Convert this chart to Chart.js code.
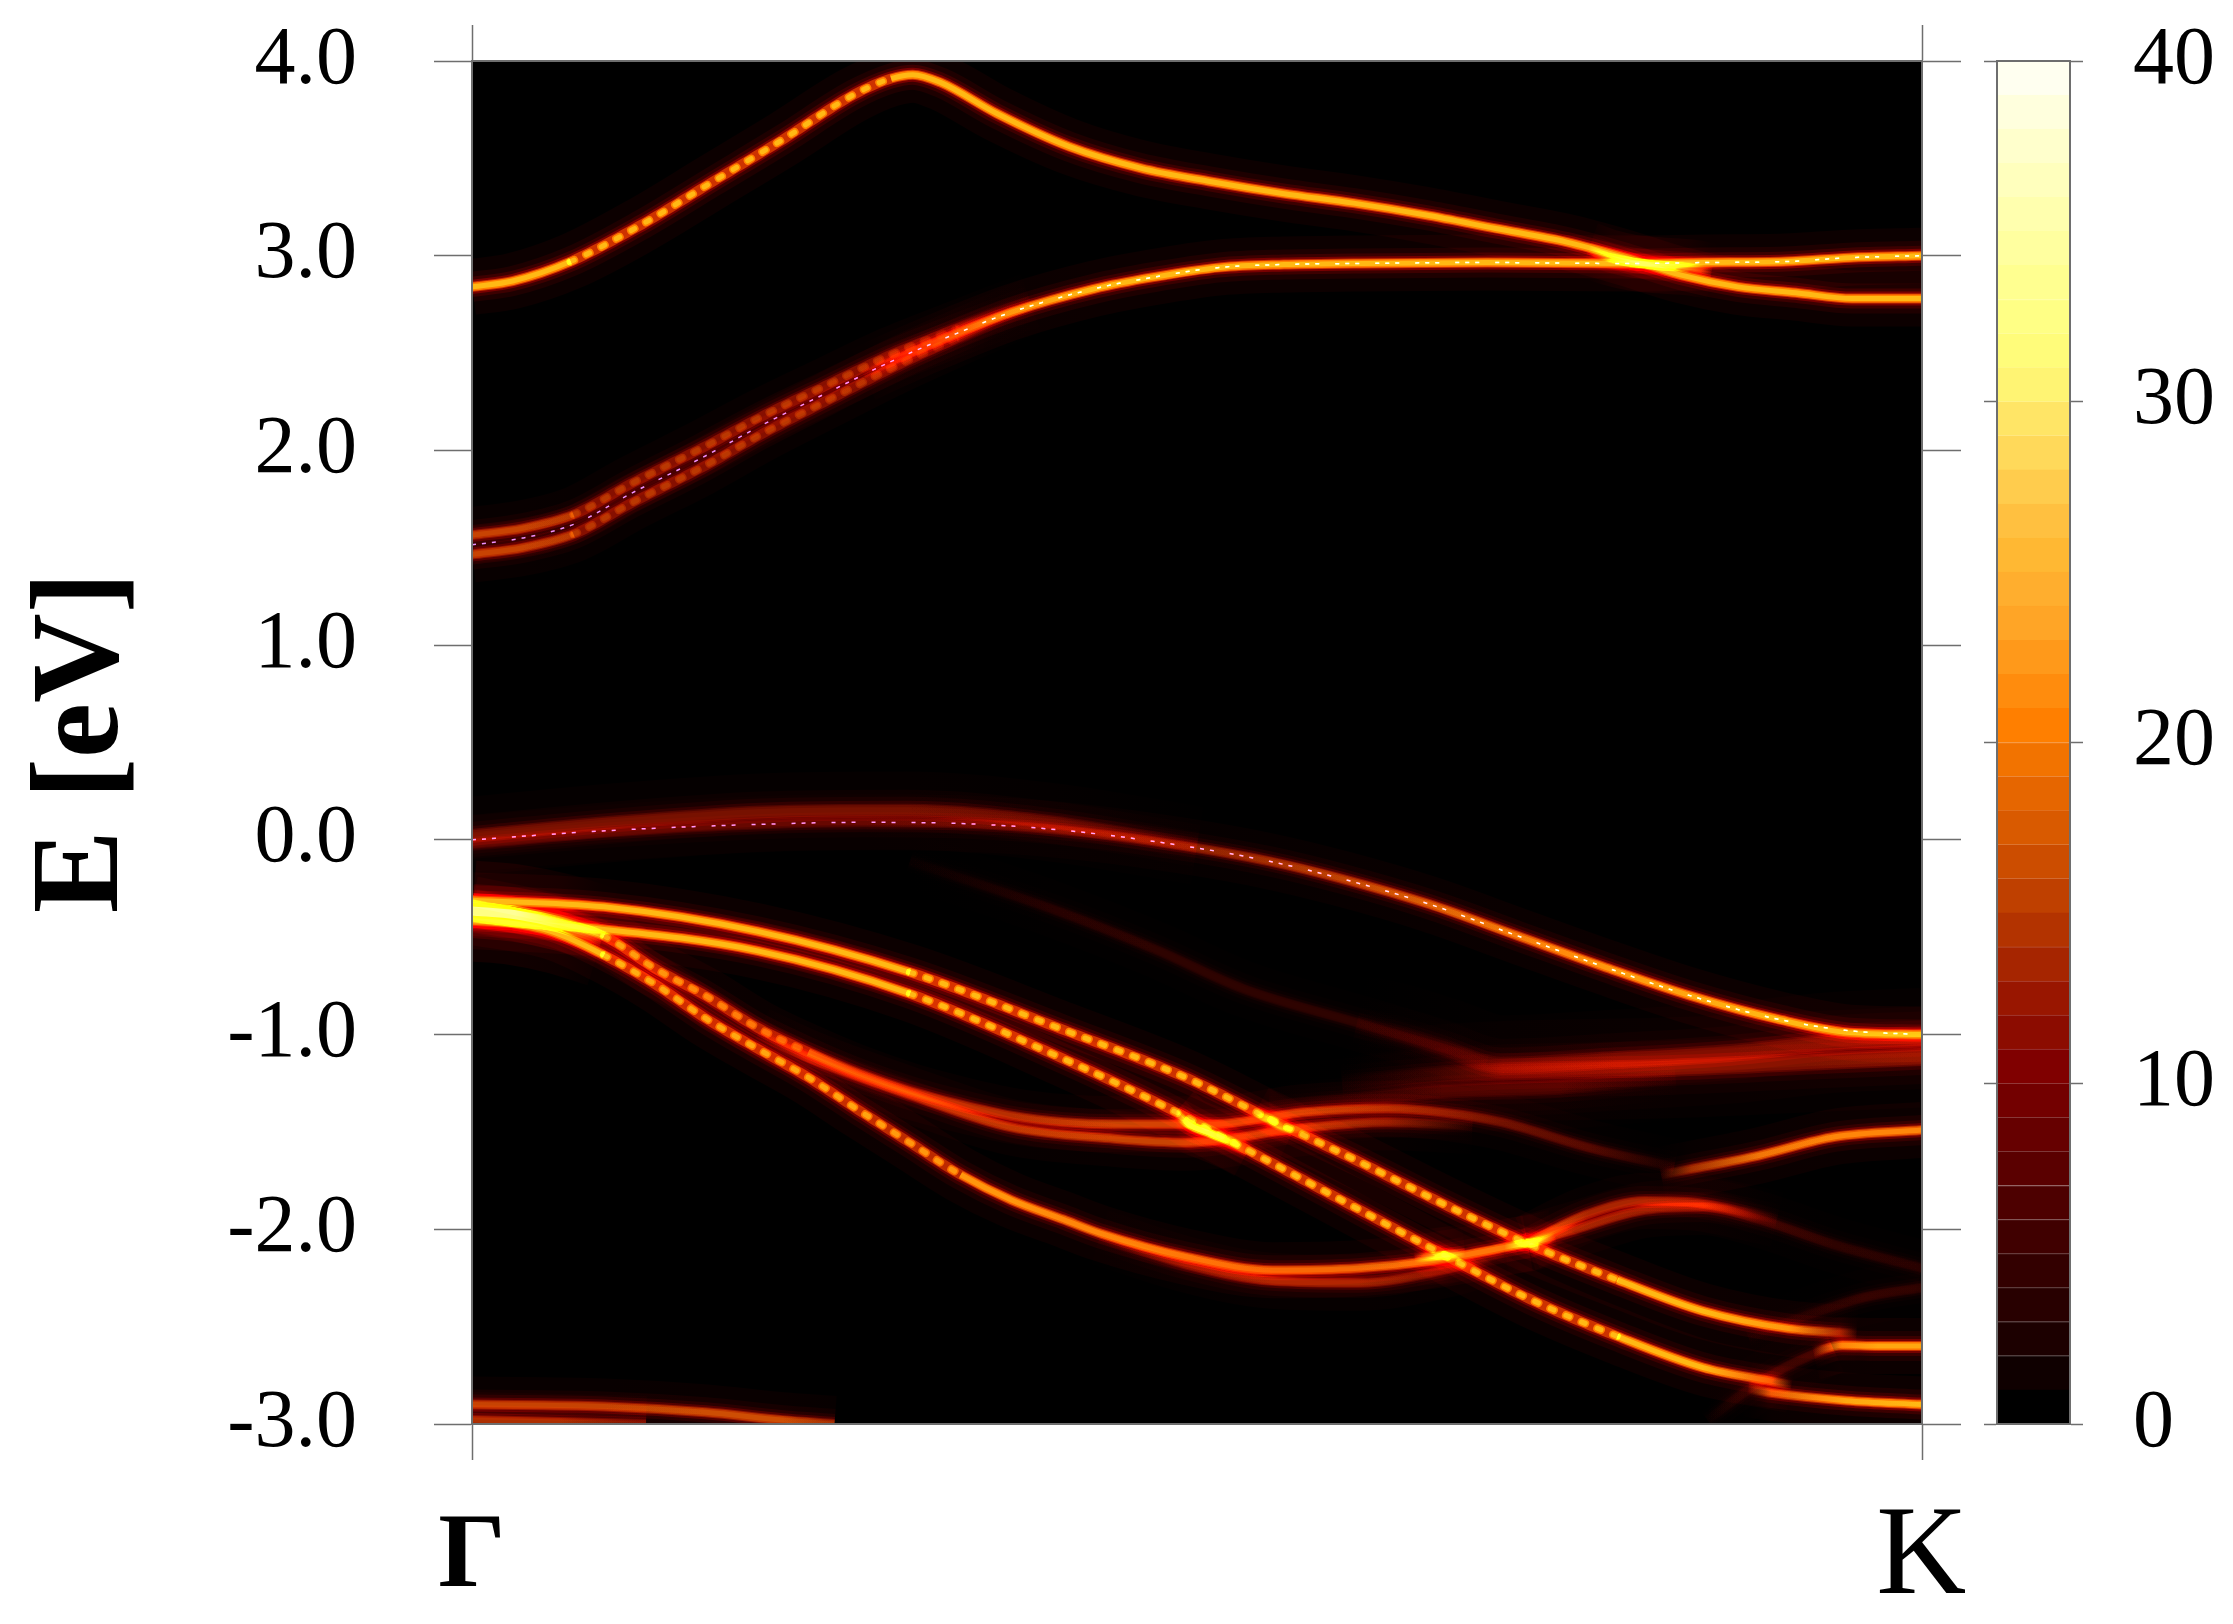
<!DOCTYPE html>
<html>
<head>
<meta charset="utf-8">
<title>Spectral function</title>
<script src="https://cdn.jsdelivr.net/npm/chart.js@4/dist/chart.umd.min.js"></script>
<style>
  html, body { margin: 0; padding: 0; background: #fff; }
  canvas { position: absolute; top: 0; }
  #bands { left: 0; }
  #colorbar { left: 1965px; }
</style>
</head>
<body>
<canvas id="bands" width="1965" height="1624"></canvas>
<canvas id="colorbar" width="268" height="1624"></canvas>
<script>
// axis ticks
const energyTicks = [4, 3, 2, 1, 0, -1, -2, -3];
const energyTickLabels = ["4.0", "3.0", "2.0", "1.0", "0.0", "-1.0", "-2.0", "-3.0"];
const kTicks = [0, 1];
const kTickLabels = ["\u0393", "K"];
const scaleTicks = [0, 10, 20, 30, 40];
const scaleSteps = [1, 1, 1, 1, 1, 1, 1, 1, 1, 1, 1, 1, 1, 1, 1, 1, 1, 1, 1, 1,
                    1, 1, 1, 1, 1, 1, 1, 1, 1, 1, 1, 1, 1, 1, 1, 1, 1, 1, 1, 1];

// conduction bands
const kCondTop = [0, 0.028, 0.068, 0.117, 0.166, 0.215, 0.264, 0.289, 0.304, 0.323, 0.362, 0.412, 0.461, 0.51, 0.559, 0.608, 0.657, 0.706, 0.755, 0.795, 0.834, 0.873, 0.913, 0.952, 1];
const eCondTop = [2.84, 2.87, 2.97, 3.16, 3.38, 3.6, 3.83, 3.91, 3.93, 3.89, 3.73, 3.56, 3.45, 3.38, 3.32, 3.27, 3.21, 3.14, 3.07, 2.99, 2.9, 2.84, 2.81, 2.78, 2.78];
const kCondMain = [0.27, 0.29, 0.334, 0.372, 0.429, 0.47, 0.516, 0.56, 0.608, 0.7, 0.798, 0.85, 0.906, 0.95, 1];
const eCondMain = [2.39, 2.46, 2.6, 2.71, 2.83, 2.89, 2.94, 2.955, 2.96, 2.965, 2.96, 2.965, 2.97, 2.99, 3.0];
const gCondMain = [0.02, 0.3, 0.65, 0.9, 1, 1, 1, 1, 1, 1, 1, 1, 1, 1, 1];
const kCondSplit = [0, 0.035, 0.07, 0.11, 0.158, 0.2, 0.246, 0.29, 0.334, 0.36, 0.385];
const eCondSplitUp = [1.565, 1.6, 1.67, 1.83, 2.01, 2.175, 2.34, 2.495, 2.625, 2.7, 2.77];
const eCondSplitDn = [1.465, 1.5, 1.57, 1.73, 1.91, 2.085, 2.26, 2.425, 2.575, 2.66, 2.74];
const gCondSplit = [0.6, 0.6, 0.55, 0.55, 0.55, 0.55, 0.55, 0.5, 0.3, 0.1, 0.02];
// the two bands cross near K
const kHotCond = [0.77, 0.785, 0.8, 0.82, 0.84, 0.855];
const eHotCond = [3.03, 2.99, 2.965, 2.95, 2.94, 2.92];
const gHotCond = [0.05, 0.9, 1.3, 1.3, 0.8, 0.05];

// calculated band overlays (dashed)
const kCalcCond = [0, 0.035, 0.07, 0.11, 0.158, 0.2, 0.246, 0.29, 0.334, 0.372, 0.429, 0.47, 0.516, 0.56, 0.608, 0.7, 0.798, 0.85, 0.906, 0.95, 1];
const eCalcCond = [1.515, 1.55, 1.62, 1.78, 1.96, 2.13, 2.3, 2.46, 2.6, 2.71, 2.83, 2.89, 2.94, 2.955, 2.96, 2.965, 2.96, 2.965, 2.97, 2.99, 3.0];
const kCalcVal = [0, 0.1, 0.2, 0.27, 0.35, 0.42, 0.49, 0.55, 0.6, 0.66, 0.72, 0.78, 0.84, 0.9, 0.95, 1];
const eCalcVal = [0, 0.05, 0.08, 0.09, 0.08, 0.04, -0.03, -0.11, -0.2, -0.33, -0.49, -0.65, -0.8, -0.92, -0.98, -1.0];

// top valence band
const kValDim = [0, 0.1, 0.2, 0.3, 0.4, 0.5];
const eValDim = [0.02, 0.09, 0.14, 0.15, 0.09, -0.03];
const gValDim = [0.3, 0.3, 0.3, 0.3, 0.25, 0.05];
const kValence = [0, 0.1, 0.2, 0.27, 0.35, 0.42, 0.49, 0.55, 0.6, 0.66, 0.72, 0.78, 0.84, 0.9, 0.95, 1];
const eValence = [-0.02, 0.04, 0.08, 0.09, 0.08, 0.04, -0.03, -0.11, -0.2, -0.33, -0.49, -0.65, -0.8, -0.92, -0.99, -1.0];
const gValence = [0.2, 0.2, 0.2, 0.2, 0.25, 0.3, 0.4, 0.5, 0.6, 0.72, 0.82, 0.9, 0.95, 1, 1, 1];

// long valence pair running down to K
const kUpper = [0, 0.091, 0.197, 0.302, 0.408, 0.492, 0.552, 0.611, 0.67, 0.73, 0.79, 0.849, 0.908, 0.943, 0.955];
const eUpper = [-0.31, -0.344, -0.47, -0.68, -0.976, -1.22, -1.44, -1.65, -1.87, -2.08, -2.26, -2.42, -2.51, -2.53, -2.535];
const gUpper = [1, 1, 1, 1, 1, 1, 1, 1, 1, 1, 1, 1, 0.9, 0.45, 0.02];
const kLower = [0, 0.091, 0.197, 0.302, 0.408, 0.478, 0.524, 0.592, 0.67, 0.73, 0.79, 0.849, 0.896, 0.91];
const eLower = [-0.416, -0.46, -0.57, -0.79, -1.125, -1.37, -1.55, -1.82, -2.13, -2.36, -2.55, -2.71, -2.78, -2.8];
const gLower = [1, 1, 1, 1, 1, 1, 1, 1, 1, 1, 1, 1, 0.7, 0.02];
// extra weight where everything meets at gamma
const kCluster = [0, 0.03, 0.06, 0.09];
const eCluster = [-0.365, -0.385, -0.43, -0.5];
const gCluster = [1.6, 1.6, 1.1, 0.05];

// steep pair from gamma
const kSteepLow = [0, 0.056, 0.091, 0.126, 0.161, 0.197, 0.232, 0.267, 0.302, 0.337, 0.372, 0.408, 0.433, 0.492, 0.552, 0.611, 0.663, 0.728];
const eSteepLow = [-0.395, -0.474, -0.592, -0.74, -0.916, -1.073, -1.22, -1.39, -1.555, -1.72, -1.85, -1.95, -2.02, -2.14, -2.21, -2.2, -2.16, -2.07];
const gSteepLow = [1, 1, 1, 0.95, 0.95, 0.95, 0.95, 0.95, 0.9, 0.9, 0.9, 0.85, 0.85, 0.8, 0.75, 0.75, 0.8, 0.8];
const kSteepLowDim = [0.433, 0.492, 0.552, 0.611, 0.67, 0.72];
const eSteepLowDim = [-2.04, -2.18, -2.265, -2.275, -2.21, -2.1];
const gSteepLowDim = [0.02, 0.35, 0.45, 0.45, 0.3, 0.02];

// steep band that flattens out near -1.5 eV, and its partner
const kSteepUp = [0, 0.045, 0.091, 0.126, 0.161, 0.197, 0.232, 0.267, 0.302, 0.337, 0.372, 0.408, 0.443, 0.478, 0.512, 0.572, 0.631, 0.67, 0.71, 0.77, 0.829];
const eSteepUp = [-0.33, -0.4, -0.494, -0.66, -0.8, -0.965, -1.09, -1.2, -1.29, -1.36, -1.417, -1.45, -1.46, -1.46, -1.46, -1.4, -1.38, -1.4, -1.45, -1.58, -1.68];
const gSteepUp = [1, 1, 0.95, 0.9, 0.85, 0.8, 0.7, 0.55, 0.5, 0.5, 0.5, 0.55, 0.6, 0.6, 0.6, 0.6, 0.5, 0.4, 0.3, 0.22, 0.04];
const kFlatB = [0.197, 0.232, 0.302, 0.372, 0.443, 0.492, 0.572, 0.631, 0.69];
const eFlatB = [-1.0, -1.12, -1.31, -1.477, -1.535, -1.555, -1.48, -1.45, -1.47];
const gFlatB = [0.02, 0.4, 0.5, 0.55, 0.6, 0.6, 0.55, 0.4, 0.02];

// bright spots where the bands cross
const kHotA = [0.485, 0.494, 0.51, 0.524, 0.535];
const eHotA = [-1.4, -1.46, -1.51, -1.555, -1.6];
const gHotA = [0.05, 1.2, 1.3, 0.8, 0.05];
const kHotB = [0.54, 0.552, 0.566];
const eHotB = [-1.4, -1.45, -1.5];
const gHotB = [0.05, 0.9, 0.05];
const kHotC = [0.65, 0.668, 0.685];
const eHotC = [-2.15, -2.135, -2.12];
const gHotC = [0.05, 1.1, 0.05];
const kHotD = [0.712, 0.73, 0.747];
const eHotD = [-2.09, -2.07, -2.04];
const gHotD = [0.05, 1.1, 0.05];

// branches past the second crossing
const kBranchA = [0.728, 0.77, 0.809, 0.845, 0.877, 0.9];
const eBranchA = [-2.07, -1.92, -1.855, -1.865, -1.91, -1.95];
const gBranchA = [0.7, 0.45, 0.45, 0.4, 0.2, 0.02];
const kBranchB = [0.728, 0.761, 0.809, 0.849, 0.888, 0.94, 1];
const eBranchB = [-2.07, -2.0, -1.9, -1.885, -1.95, -2.08, -2.2];
const gBranchB = [0.6, 0.45, 0.4, 0.35, 0.16, 0.1, 0.08];

// pieces near K
const kRise = [0.82, 0.841, 0.888, 0.94, 1];
const eRise = [-1.72, -1.69, -1.62, -1.525, -1.49];
const gRise = [0.04, 0.5, 0.8, 0.85, 0.85];
const kBroadA = [0.61, 0.64, 0.67, 0.71, 0.79, 0.868, 0.94, 1];
const eBroadA = [-0.95, -1.0, -1.07, -1.16, -1.13, -1.095, -1.04, -1.02];
const gBroadA = [0.01, 0.04, 0.08, 0.2, 0.28, 0.28, 0.3, 0.32];
const kBroadB = [0.6, 0.63, 0.66, 0.71, 0.829, 0.92, 1];
const eBroadB = [-1.25, -1.23, -1.21, -1.19, -1.17, -1.14, -1.115];
const gBroadB = [0.01, 0.05, 0.1, 0.22, 0.32, 0.32, 0.36];
const kBroadC = [0.55, 0.6, 0.67, 0.75, 0.83];
const eBroadC = [-1.37, -1.34, -1.29, -1.27, -1.22];
const gBroadC = [0.01, 0.06, 0.15, 0.15, 0.01];
const kFlat26 = [0.925, 0.945, 0.97, 1];
const eFlat26 = [-2.63, -2.595, -2.6, -2.6];
const gFlat26 = [0.02, 0.85, 0.95, 0.95];
const kFeed26 = [0.852, 0.88, 0.904, 0.938];
const eFeed26 = [-2.98, -2.825, -2.715, -2.6];
const gFeed26 = [0.01, 0.1, 0.14, 0.16];
const kFlat29 = [0.88, 0.896, 0.948, 1];
const eFlat29 = [-2.82, -2.84, -2.88, -2.9];
const gFlat29 = [0.02, 0.7, 0.95, 1];
const kFaint23 = [0.88, 0.96, 1];
const eFaint23 = [-2.55, -2.35, -2.3];
const gFaint23 = [0.01, 0.12, 0.1];
const kStreak = [0.302, 0.402, 0.472, 0.532, 0.611, 0.67, 0.7];
const eStreak = [-0.11, -0.36, -0.565, -0.765, -0.94, -1.07, -1.14];
const gStreak = [0.01, 0.08, 0.1, 0.1, 0.1, 0.08, 0.01];

// band at the bottom edge
const kBottom = [0, 0.091, 0.161, 0.214, 0.25];
const eBottom = [-2.9, -2.91, -2.94, -2.98, -3.0];
const gBottom = [0.6, 0.6, 0.65, 0.65, 0.5];
const kBottomDim = [0, 0.06, 0.12];
const eBottomDim = [-2.98, -2.99, -3.0];
const gBottomDim = [0.5, 0.5, 0.3];

// colour bar, bottom to top
const hotPalette = [
  "#000000", "#0f0000", "#1c0000", "#280000", "#330000", "#400000", "#4d0000", "#5a0000",
  "#660000", "#730000", "#800000", "#8c0c00", "#991600", "#a62500", "#b33300", "#bf4000",
  "#cc4d00", "#d95a00", "#e66600", "#f27300", "#ff7f00", "#ff8c0d", "#ff991a", "#ffa526",
  "#ffae2e", "#ffb833", "#ffc040", "#ffcc4d", "#ffd95a", "#ffe566", "#fff473", "#fffc7a",
  "#ffff85", "#ffff90", "#ffff9f", "#ffffae", "#ffffbd", "#ffffcc", "#ffffdd", "#fffff0"
];

const spectralBands = [
  { k: kCondTop, e: eCondTop, gain: 1, bead: [0.05, 0.29] },
  { k: kCondMain, e: eCondMain, gain: gCondMain },
  { k: kCondSplit, e: eCondSplitUp, gain: gCondSplit, bead: [0.05, 0.34] },
  { k: kCondSplit, e: eCondSplitDn, gain: gCondSplit, bead: [0.05, 0.34] },
  { k: kHotCond, e: eHotCond, gain: gHotCond },
  { k: kValDim, e: eValDim, gain: gValDim, spread: 1.4 },
  { k: kValence, e: eValence, gain: gValence },
  { k: kUpper, e: eUpper, gain: gUpper, bead: [0.25, 0.8] },
  { k: kLower, e: eLower, gain: gLower, bead: [0.25, 0.8] },
  { k: kCluster, e: eCluster, gain: gCluster, spread: 1.8 },
  { k: kSteepLow, e: eSteepLow, gain: gSteepLow, bead: [0.09, 0.34] },
  { k: kSteepLowDim, e: eSteepLowDim, gain: gSteepLowDim },
  { k: kSteepUp, e: eSteepUp, gain: gSteepUp, bead: [0.09, 0.24] },
  { k: kFlatB, e: eFlatB, gain: gFlatB },
  { k: kHotA, e: eHotA, gain: gHotA },
  { k: kHotB, e: eHotB, gain: gHotB },
  { k: kHotC, e: eHotC, gain: gHotC },
  { k: kHotD, e: eHotD, gain: gHotD },
  { k: kBranchA, e: eBranchA, gain: gBranchA },
  { k: kBranchB, e: eBranchB, gain: gBranchB },
  { k: kRise, e: eRise, gain: gRise },
  { k: kBroadA, e: eBroadA, gain: gBroadA, spread: 1.8 },
  { k: kBroadB, e: eBroadB, gain: gBroadB, spread: 1.8 },
  { k: kBroadC, e: eBroadC, gain: gBroadC, spread: 1.5 },
  { k: kFlat26, e: eFlat26, gain: gFlat26 },
  { k: kFeed26, e: eFeed26, gain: gFeed26 },
  { k: kFlat29, e: eFlat29, gain: gFlat29 },
  { k: kFaint23, e: eFaint23, gain: gFaint23 },
  { k: kStreak, e: eStreak, gain: gStreak },
  { k: kBottom, e: eBottom, gain: gBottom },
  { k: kBottomDim, e: eBottomDim, gain: gBottomDim }
];

// each band is stacked from these and added up, so crossings burn out to white
const glowLayers = [
  { w: 56, rgb: [12, 0, 0] },
  { w: 30, rgb: [18, 0, 0] },
  { w: 20, rgb: [30, 0, 0] },
  { w: 14, rgb: [60, 0, 0] },
  { w: 10, rgb: [85, 50, 0] },
  { w: 8, rgb: [65, 80, 0], bead: true },
  { w: 5, rgb: [20, 55, 20], bead: true }
];

const toPoints = (k, e) => k.map((x, i) => ({ x: x, y: e[i] }));
// weak bands stay red: green and blue only come in near full strength
const layerColor = (layer, gain) => {
  const r = Math.min(255, layer.rgb[0] * Math.pow(gain, 0.8));
  const g = Math.min(255, layer.rgb[1] * gain * gain);
  const b = Math.min(255, layer.rgb[2] * Math.pow(gain, 4));
  return `rgb(${Math.round(r)},${Math.round(g)},${Math.round(b)})`;
};
const lighten = hex => {
  const v = parseInt(hex.slice(1), 16);
  const mix = c => Math.round(c + (255 - c) * 0.22);
  return `rgb(${mix(v >> 16)},${mix((v >> 8) & 255)},${mix(v & 255)})`;
};

const bandDatasets = [];
spectralBands.forEach(band => {
  glowLayers.forEach(layer => {
    const beaded = ctx => layer.bead && band.bead &&
      ctx.p0.parsed.x >= band.bead[0] && ctx.p1.parsed.x <= band.bead[1];
    bandDatasets.push({
      data: toPoints(band.k, band.e),
      // brightness fades along k, the gradient runs over the whole plot width
      borderColor: ctx => {
        if (!Array.isArray(band.gain)) return layerColor(layer, band.gain);
        const area = ctx.chart.chartArea;
        if (!area) return layerColor(layer, band.gain[0]);
        const fade = ctx.chart.ctx.createLinearGradient(area.left, 0, area.right, 0);
        band.k.forEach((x, i) => fade.addColorStop(x, layerColor(layer, band.gain[i])));
        return fade;
      },
      borderWidth: layer.w * (band.spread || 1),
      pointRadius: 0,
      showLine: true,
      cubicInterpolationMode: "monotone",
      segment: {
        borderCapStyle: ctx => beaded(ctx) ? "round" : "butt",
        borderDash: ctx => beaded(ctx) ? [4, 13] : undefined
      }
    });
  });
});

[[kCalcCond, eCalcCond], [kCalcVal, eCalcVal]].forEach(pair => {
  bandDatasets.push({
    data: toPoints(pair[0], pair[1]),
    borderColor: "#a890ff",
    borderWidth: 1.5,
    borderDash: [4, 6, 4, 6, 4, 16],
    pointRadius: 0,
    showLine: true,
    cubicInterpolationMode: "monotone"
  });
});

const AXIS_GRAY = "#6e6e6e";
const SERIF = "'Liberation Serif', serif";

const tickGrid = len => ({
  drawOnChartArea: false,
  drawTicks: true,
  tickLength: len,
  tickColor: AXIS_GRAY,
  tickWidth: 1.5
});
const axisBorder = { display: true, color: AXIS_GRAY, width: 2, z: 1 };
// labels may hang over the plot corners, the plot box itself stays put
const noOverhang = axis => {
  axis.paddingTop = axis.paddingBottom = axis.paddingLeft = axis.paddingRight = 0;
};
const fixedWidth = w => axis => { axis.width = w; noOverhang(axis); };
const fixedHeight = h => axis => { axis.height = h; noOverhang(axis); };

const blackPlot = {
  id: "blackPlot",
  beforeDraw(chart) {
    const a = chart.chartArea;
    chart.ctx.save();
    chart.ctx.fillStyle = "#000";
    chart.ctx.fillRect(a.left, a.top, a.right - a.left, a.bottom - a.top);
    chart.ctx.restore();
  },
  beforeDatasetsDraw(chart) {
    chart.ctx.save();
    chart.ctx.globalCompositeOperation = "lighter";
  },
  afterDatasetsDraw(chart) {
    chart.ctx.restore();
  }
};

new Chart(document.getElementById("bands"), {
  type: "scatter",
  data: { datasets: bandDatasets },
  plugins: [blackPlot],
  options: {
    responsive: false,
    animation: false,
    devicePixelRatio: 1,
    layout: { autoPadding: false, padding: { top: 25, right: 4, bottom: 0, left: 0 } },
    plugins: { legend: { display: false }, tooltip: { enabled: false } },
    scales: {
      x: {
        type: "linear", position: "bottom", min: 0, max: 1,
        afterBuildTicks: axis => { axis.ticks = kTicks.map(v => ({ value: v })); },
        afterFit: fixedHeight(200),
        grid: tickGrid(36),
        border: axisBorder,
        ticks: {
          autoSkip: false, maxRotation: 0, padding: 23, color: "#000",
          font: ctx => ctx.index === 0
            ? { family: SERIF, size: 106, weight: "bold", lineHeight: 1.435 }
            : { family: SERIF, size: 127, weight: "normal", lineHeight: 1.2 },
          callback: (v, i) => kTickLabels[i]
        }
      },
      xTop: {
        type: "linear", position: "top", min: 0, max: 1,
        afterBuildTicks: axis => { axis.ticks = kTicks.map(v => ({ value: v })); },
        afterFit: fixedHeight(36),
        grid: tickGrid(36),
        border: axisBorder,
        ticks: { display: false }
      },
      y: {
        type: "linear", position: "left", min: -3, max: 4,
        afterBuildTicks: axis => { axis.ticks = energyTicks.map(v => ({ value: v })); },
        afterFit: fixedWidth(472),
        grid: tickGrid(38),
        border: axisBorder,
        title: {
          display: true,
          text: "E [eV]",
          color: "#000",
          padding: { top: 23, bottom: 0 },
          font: { family: SERIF, size: 124, weight: "bold", lineHeight: 1 }
        },
        ticks: {
          autoSkip: false, padding: 77, color: "#000",
          font: { family: SERIF, size: 82 },
          callback: (v, i) => energyTickLabels[i]
        }
      },
      yRight: {
        type: "linear", position: "right", min: -3, max: 4,
        afterBuildTicks: axis => { axis.ticks = energyTicks.map(v => ({ value: v })); },
        afterFit: fixedWidth(39),
        grid: tickGrid(39),
        border: axisBorder,
        ticks: { display: false }
      }
    }
  }
});

new Chart(document.getElementById("colorbar"), {
  type: "bar",
  data: {
    labels: [""],
    datasets: scaleSteps.map((step, i) => ({
      data: [step],
      stack: "scale",
      backgroundColor: hotPalette[i],
      borderColor: i > 0 && i < 14 ? lighten(hotPalette[i]) : hotPalette[i],
      borderWidth: { top: 1 },
      borderSkipped: false,
      barPercentage: 1,
      categoryPercentage: 1
    }))
  },
  options: {
    responsive: false,
    animation: false,
    devicePixelRatio: 1,
    layout: { autoPadding: false, padding: { top: 61, right: 0, bottom: 0, left: 0 } },
    plugins: { legend: { display: false }, tooltip: { enabled: false } },
    scales: {
      x: {
        stacked: true,
        position: "bottom",
        afterFit: fixedHeight(200),
        grid: { drawOnChartArea: false, drawTicks: false },
        border: axisBorder,
        ticks: { display: false }
      },
      xTop: {
        type: "category",
        position: "top",
        afterFit: fixedHeight(0),
        grid: { drawOnChartArea: false, drawTicks: false },
        border: axisBorder,
        ticks: { display: false }
      },
      y: {
        stacked: true, position: "left", min: 0, max: 40,
        afterBuildTicks: axis => { axis.ticks = scaleTicks.map(v => ({ value: v })); },
        afterFit: fixedWidth(32),
        grid: tickGrid(13),
        border: axisBorder,
        ticks: { display: false }
      },
      yRight: {
        position: "right", min: 0, max: 40,
        afterBuildTicks: axis => { axis.ticks = scaleTicks.map(v => ({ value: v })); },
        afterFit: fixedWidth(163),
        grid: tickGrid(13),
        border: axisBorder,
        ticks: {
          autoSkip: false, padding: 50, color: "#000",
          font: { family: SERIF, size: 82 },
          callback: v => String(v)
        }
      }
    }
  }
});
</script>
</body>
</html>
